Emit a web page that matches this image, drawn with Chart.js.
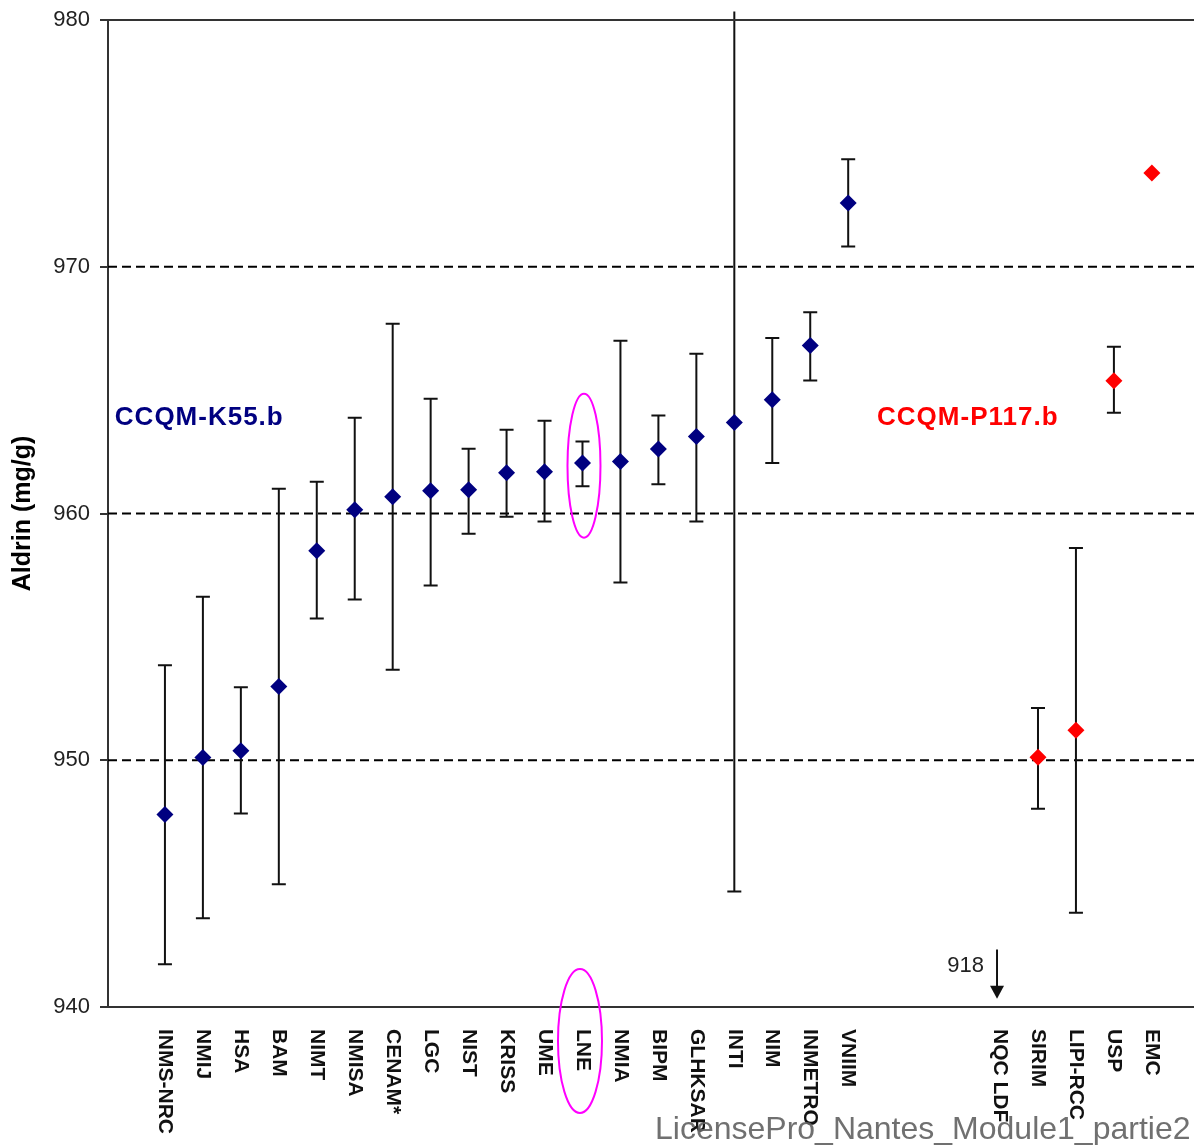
<!DOCTYPE html>
<html>
<head>
<meta charset="utf-8">
<script src="https://cdn.jsdelivr.net/npm/chart.js@4.4.1/dist/chart.umd.min.js"></script>
<style>
  html, body { margin: 0; padding: 0; background: #fff; }
  #wrap { width: 1194px; height: 1145px; }
</style>
</head>
<body>
<div id="wrap"><canvas id="chartAldrin" width="1194" height="1145"></canvas></div>
<script>
// Labos (position sur l'axe = index dans le tableau, cases vides = espace)
const labos = ['INMS-NRC', 'NMIJ', 'HSA', 'BAM', 'NIMT', 'NMISA', 'CENAM*', 'LGC', 'NIST', 'KRISS',
  'UME', 'LNE', 'NMIA', 'BIPM', 'GLHKSAR', 'INTI', 'NIM', 'INMETRO', 'VNIIM',
  '', '', '', 'NQC LDF', 'SIRIM', 'LIPI-RCC', 'USP', 'EMC'];
// 'K' = CCQM-K55.b, 'P' = CCQM-P117.b
const groupe = ['K', 'K', 'K', 'K', 'K', 'K', 'K', 'K', 'K', 'K',
  'K', 'K', 'K', 'K', 'K', 'K', 'K', 'K', 'K',
  '', '', '', 'P', 'P', 'P', 'P', 'P'];
const valeurs = [947.80, 950.11, 950.39, 952.99, 958.49, 960.15, 960.68, 960.92, 960.96, 961.65,
  961.69, 962.05, 962.11, 962.61, 963.12, 963.69, 964.61, 966.81, 972.58,
  null, null, null, null, 950.12, 951.22, 965.38, 973.80];
const incBasse = [941.73, 943.60, 947.84, 944.97, 955.74, 956.51, 953.67, 957.08, 959.18, 959.87,
  959.68, 961.10, 957.20, 961.19, 959.68, 944.68, 962.05, 965.39, 970.82,
  null, null, null, null, 948.03, 943.82, 964.08, null];
const incHaute = [953.85, 956.63, 952.96, 961.00, 961.29, 963.88, 967.69, 964.65, 962.62, 963.39,
  963.76, 962.92, 967.00, 963.97, 966.47, 980.34, 967.11, 968.16, 974.36,
  null, null, null, null, 952.12, 958.60, 966.76, null];
const yTicks = [940, 950, 960, 970, 980];
const lignesPointillees = [950, 960, 970];
const horsEchelle = { index: 22, texte: '918' }; // NQC LDF hors du graphique

const BLEU = '#000080';
const ROUGE = '#ff0000';
const POLICE = "'Liberation Sans', Arial, sans-serif";

function points(g) {
  const out = [];
  valeurs.forEach((v, i) => {
    if (groupe[i] === g && v !== null) out.push({ x: i, y: v });
  });
  return out;
}

// Lignes pointillées + barres d'incertitude
const barresErreur = {
  id: 'barresErreur',
  beforeDatasetsDraw(chart) {
    const { ctx, chartArea: ca, scales: { x, y } } = chart;
    ctx.save();
    ctx.strokeStyle = '#000';
    ctx.lineWidth = 2;
    ctx.setLineDash([9, 5]);
    lignesPointillees.forEach(v => {
      const py = y.getPixelForValue(v);
      ctx.beginPath();
      ctx.moveTo(ca.left, py);
      ctx.lineTo(ca.right, py);
      ctx.stroke();
    });
    ctx.setLineDash([]);

    ctx.strokeStyle = '#111';
    incBasse.forEach((lo, i) => {
      const hi = incHaute[i];
      if (lo === null || hi === null) return;
      const px = x.getPixelForValue(i);
      const pLo = y.getPixelForValue(lo);
      const pHi = y.getPixelForValue(hi);
      ctx.beginPath();
      ctx.moveTo(px, pLo);
      ctx.lineTo(px, pHi);
      ctx.moveTo(px - 7, pLo);
      ctx.lineTo(px + 7, pLo);
      if (hi <= y.max) {
        ctx.moveTo(px - 7, pHi);
        ctx.lineTo(px + 7, pHi);
      }
      ctx.stroke();
    });
    ctx.restore();
  }
};

// Annotations, étiquettes verticales, cadre du haut
const decor = {
  id: 'decor',
  afterDraw(chart) {
    const { ctx, chartArea: ca, scales: { x, y } } = chart;
    ctx.save();

    // ligne du haut
    ctx.strokeStyle = '#333';
    ctx.lineWidth = 2;
    ctx.beginPath();
    ctx.moveTo(ca.left, ca.top);
    ctx.lineTo(ca.right, ca.top);
    ctx.stroke();

    // étiquettes des labos (rotation 90°)
    ctx.fillStyle = '#111';
    ctx.font = 'bold 21px ' + POLICE;
    ctx.textAlign = 'left';
    ctx.textBaseline = 'middle';
    labos.forEach((lab, i) => {
      if (!lab) return;
      ctx.save();
      ctx.translate(x.getPixelForValue(i), ca.bottom + 22);
      ctx.rotate(Math.PI / 2);
      ctx.fillText(lab, 0, 0);
      ctx.restore();
    });

    // noms des comparaisons
    ctx.textBaseline = 'alphabetic';
    ctx.font = 'bold 26px ' + POLICE;
    ctx.letterSpacing = '1px';
    ctx.fillStyle = BLEU;
    ctx.fillText('CCQM-K55.b', x.getPixelForValue(-1.32), y.getPixelForValue(963.6));
    ctx.fillStyle = ROUGE;
    ctx.fillText('CCQM-P117.b', x.getPixelForValue(18.76), y.getPixelForValue(963.6));
    ctx.letterSpacing = '0px';

    // flèche hors échelle
    const ax = x.getPixelForValue(horsEchelle.index) - 3;
    const yTop = y.getPixelForValue(942.33);
    const yTip = y.getPixelForValue(940.33);
    ctx.strokeStyle = '#111';
    ctx.fillStyle = '#111';
    ctx.lineWidth = 2;
    ctx.beginPath();
    ctx.moveTo(ax, yTop);
    ctx.lineTo(ax, yTip - 10);
    ctx.stroke();
    ctx.beginPath();
    ctx.moveTo(ax - 7, yTip - 13);
    ctx.lineTo(ax + 7, yTip - 13);
    ctx.lineTo(ax, yTip);
    ctx.closePath();
    ctx.fill();
    ctx.font = '22px ' + POLICE;
    ctx.textAlign = 'right';
    ctx.fillStyle = '#222';
    ctx.fillText(horsEchelle.texte, ax - 13, yTop + 22);

    // ellipses magenta autour de LNE
    ctx.strokeStyle = '#ff00ff';
    ctx.lineWidth = 2;
    const lx = x.getPixelForValue(11);
    ctx.beginPath();
    ctx.ellipse(lx + 1.5, y.getPixelForValue(961.94), 16.5, 72, 0, 0, Math.PI * 2);
    ctx.stroke();
    ctx.beginPath();
    ctx.ellipse(lx - 2.5, ca.bottom + 34, 22, 72, 0, 0, Math.PI * 2);
    ctx.stroke();

    // filigrane
    ctx.font = '32px ' + POLICE;
    ctx.textAlign = 'left';
    ctx.fillStyle = 'rgba(100,100,100,0.92)';
    ctx.fillText('LicensePro_Nantes_Module1_partie2', 655, 1139);

    ctx.restore();
  }
};

new Chart(document.getElementById('chartAldrin'), {
  type: 'scatter',
  data: {
    datasets: [
      {
        label: 'CCQM-K55.b',
        data: points('K'),
        pointStyle: 'rectRot',
        pointRadius: 8.5,
        pointHoverRadius: 8.5,
        backgroundColor: BLEU,
        borderColor: BLEU,
        borderWidth: 0
      },
      {
        label: 'CCQM-P117.b',
        data: points('P'),
        pointStyle: 'rectRot',
        pointRadius: 8.5,
        pointHoverRadius: 8.5,
        backgroundColor: ROUGE,
        borderColor: ROUGE,
        borderWidth: 0
      }
    ]
  },
  options: {
    responsive: false,
    animation: false,
    layout: { autoPadding: false, padding: { top: 20, right: 0, bottom: 138, left: 0 } },
    plugins: {
      legend: { display: false },
      tooltip: { enabled: false }
    },
    scales: {
      x: {
        type: 'linear',
        min: -1.5,
        max: 27.11,
        ticks: { display: false },
        grid: { display: false, drawTicks: false },
        border: { display: true, color: '#333', width: 2 },
        afterFit: (axis) => { axis.height = 0; }
      },
      y: {
        min: 940,
        max: 980,
        afterBuildTicks: (axis) => { axis.ticks = yTicks.map(v => ({ value: v })); },
        afterFit: (axis) => {
          axis.width = 108;
          axis.paddingTop = 0;
          axis.paddingBottom = 0;
        },
        ticks: {
          color: '#222',
          padding: 10,
          font: { family: POLICE, size: 22 }
        },
        grid: {
          color: 'rgba(0,0,0,0)',
          tickColor: '#333',
          tickLength: 8,
          lineWidth: 2
        },
        border: { display: true, color: '#333', width: 2 },
        title: {
          display: true,
          text: 'Aldrin (mg/g)',
          color: '#000',
          padding: { top: 8, bottom: 0 },
          font: { family: POLICE, size: 25, weight: 'bold' }
        }
      }
    }
  },
  plugins: [barresErreur, decor]
});
</script>
</body>
</html>
